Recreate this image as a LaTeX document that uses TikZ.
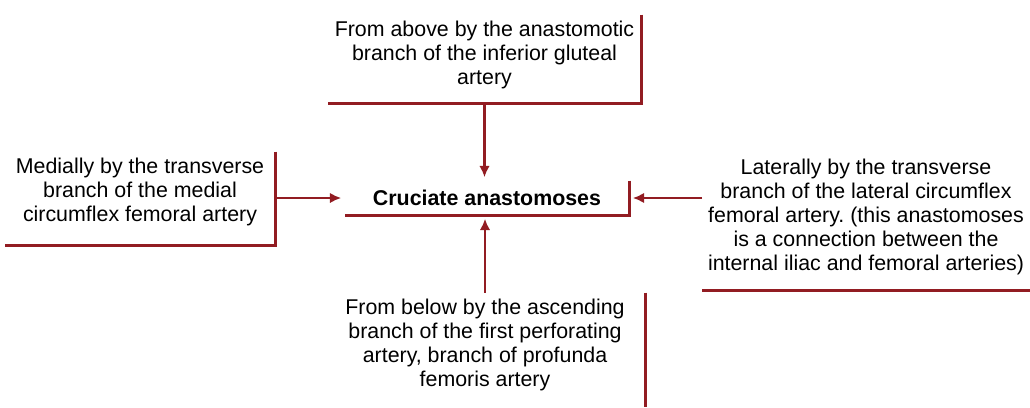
\documentclass[tikz,border=0pt]{standalone}
\usepackage{fontspec}
\setmainfont{Liberation Sans}
\usetikzlibrary{arrows.meta}
\definecolor{arteryred}{RGB}{146, 28, 34}

\begin{document}
\begin{tikzpicture}[x=0.025cm, y=-0.025cm,
    note/.style={align=center, inner sep=0pt, font=\fontsize{15.2}{17}\selectfont},
    rim/.style={arteryred, line width=2pt},
    feed/.style={arteryred, line width=1.8pt, -{Latex[length=8pt,width=7.5pt]}, shorten >=2.5pt}]
  \useasboundingbox (0,0) rectangle (1030,407);

  % Centre of the anastomosis
  \node[note, font=\fontsize{15.2}{17}\selectfont\bfseries,
        minimum width=7.1cm, minimum height=0.85cm] (cruciate) at (487,198) {Cruciate anastomoses};

  % Contributing branches
  \node[note, minimum width=7.83cm, minimum height=2.2cm, text depth=8.9pt] (above) at (484.5,59)
    {From above by the anastomotic\\branch of the inferior gluteal\\artery};
  \node[note, minimum width=6.75cm, minimum height=2.33cm, text depth=12.4pt] (medial) at (140,198.5)
    {Medially by the transverse\\branch of the medial\\circumflex femoral artery};
  \node[note, minimum width=8.18cm, minimum height=3.65cm] (lateral) at (866,217)
    {Laterally by the transverse\\branch of the lateral circumflex\\femoral artery.\ (this anastomoses\\is a connection between the\\internal iliac and femoral arteries)};
  \node[note, minimum width=8cm, minimum height=2.85cm, text depth=10.3pt] (below) at (485,350)
    {From below by the ascending\\branch of the first perforating\\artery, branch of profunda\\femoris artery};

  % Box rims
  \draw[rim] (cruciate.north east) |- (cruciate.south west);
  \draw[rim] (above.north east) |- (above.south west);
  \draw[rim] (medial.north east) |- (medial.south west);
  \draw[rim] (lateral.south west) -- (lateral.south east);
  \draw[rim] (below.north east) -- (below.south east);

  % Arrows into the centre
  \draw[feed] (above.south) -- (above.south |- cruciate.north);
  \draw[feed] (medial.east |- cruciate.west) -- (cruciate.west);
  \draw[feed] (lateral.west |- cruciate.east) -- (cruciate.east);
  \draw[feed] (below.north) -- (below.north |- cruciate.south);
\end{tikzpicture}
\end{document}
